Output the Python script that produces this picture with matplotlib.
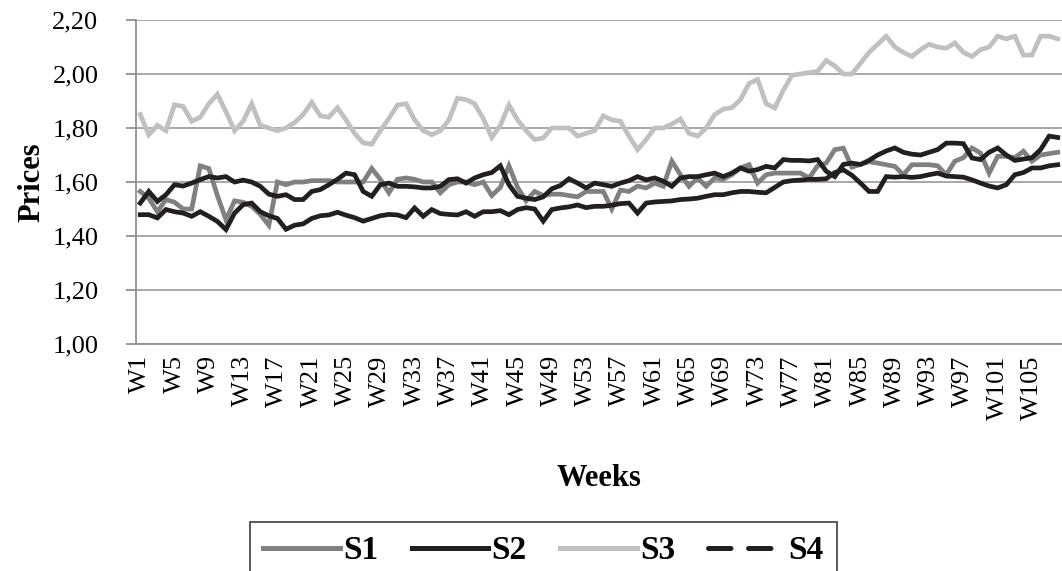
import numpy as np
import matplotlib
matplotlib.use("Agg")
import matplotlib.pyplot as plt
from matplotlib.lines import Line2D
from matplotlib.ticker import FuncFormatter

plt.rcParams['font.family'] = ['Liberation Serif', 'DejaVu Serif']

weeks = ["W%d" % i for i in range(1, 109)]

s1 = [1.565, 1.54, 1.49, 1.535, 1.525, 1.50, 1.50, 1.66, 1.65, 1.55,
      1.46, 1.53, 1.525, 1.51, 1.48, 1.44, 1.60, 1.59, 1.60, 1.60,
      1.605, 1.605, 1.605, 1.60, 1.60, 1.60, 1.60, 1.65, 1.61, 1.56,
      1.61, 1.615, 1.61, 1.60, 1.60, 1.56, 1.59, 1.60, 1.60, 1.59,
      1.60, 1.55, 1.58, 1.66, 1.58, 1.53, 1.565, 1.55, 1.555, 1.555,
      1.55, 1.545, 1.565, 1.565, 1.565, 1.50, 1.57, 1.565, 1.585, 1.578,
      1.596, 1.584, 1.677, 1.627, 1.584, 1.615, 1.584, 1.615, 1.61, 1.627,
      1.652, 1.664, 1.596, 1.627, 1.633, 1.633, 1.633, 1.633, 1.615, 1.66,
      1.67, 1.72, 1.725, 1.655, 1.665, 1.675, 1.67, 1.664, 1.658, 1.627,
      1.664, 1.664, 1.664, 1.66, 1.627, 1.677, 1.69, 1.726, 1.707, 1.633,
      1.695, 1.695, 1.69, 1.714, 1.677, 1.70, 1.705, 1.71]

s2 = [1.522, 1.565, 1.528, 1.553, 1.59, 1.585, 1.596, 1.609, 1.62, 1.615,
      1.62, 1.60, 1.607, 1.60, 1.584, 1.555, 1.547, 1.553, 1.535, 1.535,
      1.565, 1.572, 1.59, 1.61, 1.633, 1.627, 1.565, 1.547, 1.59, 1.596,
      1.584, 1.584, 1.582, 1.578, 1.578, 1.584, 1.609, 1.612, 1.596, 1.615,
      1.627, 1.635, 1.66, 1.59, 1.547, 1.54, 1.535, 1.545, 1.575, 1.587,
      1.612, 1.596, 1.578, 1.596, 1.59, 1.584, 1.596, 1.605, 1.62, 1.608,
      1.615, 1.603, 1.584, 1.615, 1.62, 1.62, 1.627, 1.633, 1.62, 1.633,
      1.652, 1.64, 1.646, 1.658, 1.652, 1.683, 1.68, 1.68, 1.678, 1.683,
      1.64, 1.62, 1.665, 1.67, 1.665, 1.68, 1.70, 1.715, 1.726, 1.71,
      1.703, 1.70, 1.71, 1.72, 1.744, 1.744, 1.742, 1.689, 1.683, 1.71,
      1.726, 1.70, 1.68, 1.685, 1.69, 1.72, 1.77, 1.765]

s3 = [1.85, 1.775, 1.81, 1.79, 1.886, 1.88, 1.825, 1.84, 1.89, 1.925,
      1.86, 1.79, 1.825, 1.89, 1.81, 1.80, 1.79, 1.80, 1.82, 1.85,
      1.895, 1.845, 1.84, 1.875, 1.83, 1.78, 1.745, 1.74, 1.79, 1.835,
      1.885, 1.89, 1.83, 1.79, 1.775, 1.79, 1.83, 1.91, 1.905, 1.89,
      1.835, 1.765, 1.81, 1.885, 1.83, 1.79, 1.757, 1.763, 1.80, 1.80,
      1.80, 1.77, 1.78, 1.79, 1.845, 1.83, 1.825, 1.77, 1.72, 1.757,
      1.80, 1.80, 1.815, 1.833, 1.78, 1.77, 1.80, 1.85, 1.87, 1.875,
      1.905, 1.965, 1.98, 1.89, 1.874, 1.94, 1.995, 2.00, 2.005, 2.01,
      2.05, 2.03, 2.00, 2.00, 2.04, 2.08, 2.11, 2.14, 2.10, 2.08,
      2.065, 2.09, 2.11, 2.10, 2.095, 2.115, 2.08, 2.065, 2.09, 2.10,
      2.14, 2.13, 2.14, 2.07, 2.07, 2.14, 2.14, 2.13]

s4 = [1.479, 1.479, 1.467, 1.498, 1.49, 1.485, 1.473, 1.49, 1.473, 1.454,
      1.424, 1.485, 1.516, 1.522, 1.49, 1.475, 1.465, 1.425, 1.44, 1.445,
      1.465, 1.475, 1.478, 1.488, 1.477, 1.468, 1.455, 1.465, 1.475, 1.48,
      1.478, 1.468, 1.504, 1.473, 1.498, 1.483, 1.48, 1.478, 1.49, 1.473,
      1.49, 1.49, 1.494, 1.479, 1.498, 1.505, 1.50, 1.455, 1.498, 1.504,
      1.508, 1.515, 1.505, 1.51, 1.51, 1.514, 1.52, 1.522, 1.485, 1.522,
      1.526, 1.528, 1.53, 1.535, 1.537, 1.54, 1.547, 1.553, 1.553, 1.56,
      1.565, 1.565, 1.562, 1.56, 1.58, 1.60, 1.605, 1.607, 1.61, 1.61,
      1.612, 1.635, 1.645, 1.625, 1.596, 1.565, 1.565, 1.62, 1.618, 1.62,
      1.617, 1.62, 1.627, 1.633, 1.622, 1.62, 1.618, 1.608, 1.596, 1.585,
      1.578, 1.59, 1.627, 1.635, 1.652, 1.652, 1.66, 1.664]

series_names = ["S1", "S2", "S3", "S4"]
series_colors = ["#808080", "#231f20", "#c0c0c0", "#231f20"]

fig = plt.figure(figsize=(10.62, 5.71), dpi=100)
ax = fig.add_axes([0.128, 0.3975, 0.872, 0.5675])

x = np.arange(len(weeks))
for vals, col in zip([s1, s2, s3, s4], series_colors):
    ax.plot(x, vals, color=col, lw=3.4, solid_joinstyle='miter')

ax.set_xlim(-0.5, len(weeks) - 0.5)
ax.set_ylim(1.0, 2.2)
ax.set_yticks(np.arange(1.0, 2.21, 0.2))
ax.yaxis.set_major_formatter(FuncFormatter(lambda v, p: ("%.2f" % v).replace(".", ",")))
ax.grid(axis='y', color='#a0a0a0', lw=1.3)
ax.set_axisbelow(True)

ax.set_xticks(x[::4])
ax.set_xticklabels(weeks[::4], rotation=90)

for s in ['top', 'right']:
    ax.spines[s].set_visible(False)
ax.spines['left'].set_color('#909090')
ax.spines['bottom'].set_color('#909090')
ax.spines['left'].set_linewidth(1.3)
ax.spines['bottom'].set_linewidth(1.3)
ax.tick_params(axis='y', length=7, color='#909090', width=1.3, labelsize=19, pad=20)
ax.tick_params(axis='x', length=0, labelsize=19, pad=8)

ax.set_ylabel("Prices", fontsize=22, fontweight='bold', labelpad=4)
ax.set_xlabel("Weeks", fontsize=22, fontweight='bold', labelpad=32)

# legend: box spans roughly x 250..837 px, top at y 522 px
handles = [Line2D([], [], color=series_colors[0], lw=3.6),
           Line2D([], [], color=series_colors[1], lw=3.6),
           Line2D([], [], color=series_colors[2], lw=3.6),
           Line2D([], [], color=series_colors[3], lw=3.6, ls=(0, (4.5, 3.5)),
                  dash_capstyle='round')]
leg = fig.legend(handles, series_names, loc='upper left',
                 bbox_to_anchor=(250 / 1062, 0.0, 587 / 1062, 1 - 522 / 571),
                 mode='expand', ncol=4, frameon=True, fancybox=False, edgecolor='#231f20',
                 prop={'size': 24, 'weight': 'bold'}, handlelength=2.3,
                 handletextpad=0.1, columnspacing=0.8, borderpad=0.4,
                 borderaxespad=0)
leg.get_frame().set_linewidth(1.3)

fig.savefig("out.png", dpi=100)
